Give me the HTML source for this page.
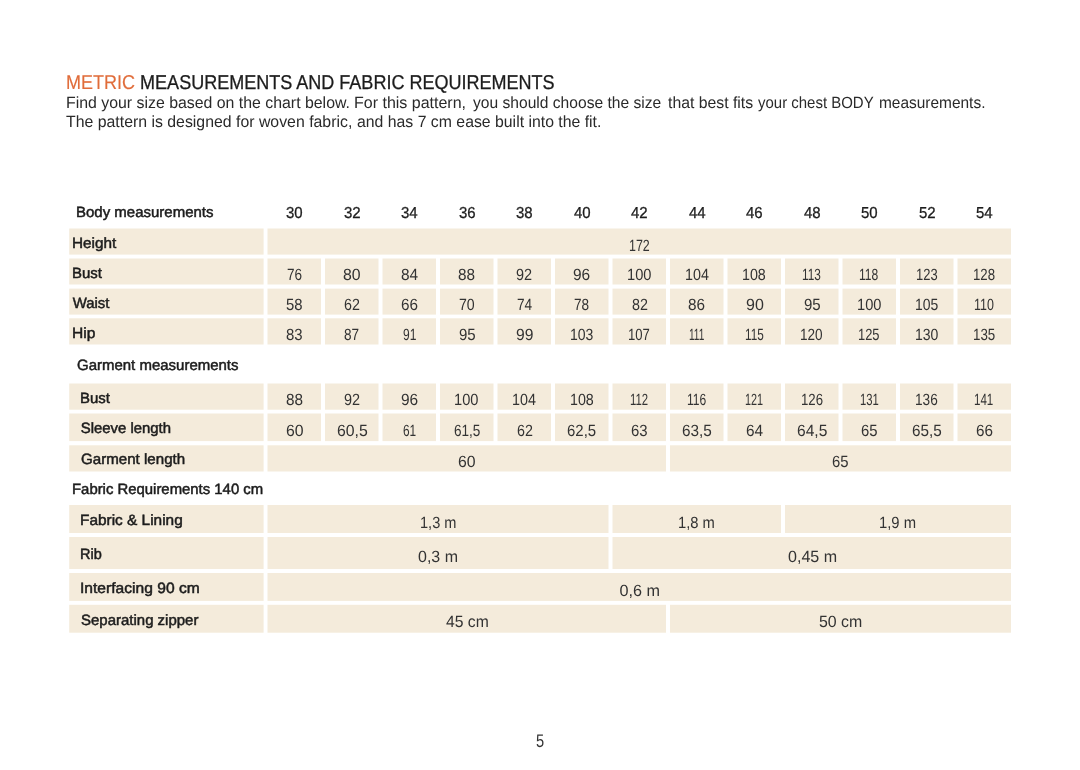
<!DOCTYPE html>
<html lang="en"><head><meta charset="utf-8"><title>Metric measurements and fabric requirements</title>
<style>
html,body{margin:0;padding:0;background:#fff}
body{width:1080px;height:770px;position:relative;overflow:hidden;font-family:"Liberation Sans",sans-serif;color:#222;text-rendering:geometricPrecision}
p{margin:0}
.bg{position:absolute;left:0;top:0;display:block}
.t{position:absolute;white-space:nowrap;line-height:0;height:0;transform-origin:0 0}
.l{font-size:14.9px;color:#1c1c1c;-webkit-text-stroke:0.5px #1c1c1c}
.n{font-size:16.2px;color:#333}
.title{font-size:20.0px;color:#1c1c1c;-webkit-text-stroke:0.3px #1c1c1c}
.title .o{font-weight:normal;color:#e06c3a;-webkit-text-stroke:0.15px #e06c3a}
.body{font-size:16.2px;color:#2a2a2a}
.sec{font-size:14.9px;color:#1c1c1c;-webkit-text-stroke:0.5px #1c1c1c}
.hn{font-size:15.9px;color:#1c1c1c;-webkit-text-stroke:0.3px #1c1c1c}
.pg{font-size:18.3px;color:#333}
</style></head>
<body>
<svg class="bg" width="1080" height="770" viewBox="0 0 1080 770" aria-hidden="true"><g fill="#f4ebdb">
<rect x="69.2" y="228.5" width="194.4" height="26.1"/>
<rect x="267.5" y="228.5" width="743.5" height="26.1"/>
<rect x="69.2" y="258.5" width="194.4" height="26.0"/>
<rect x="267.5" y="258.5" width="53.5" height="26.0"/>
<rect x="325.0" y="258.5" width="53.5" height="26.0"/>
<rect x="382.5" y="258.5" width="53.5" height="26.0"/>
<rect x="440.0" y="258.5" width="53.5" height="26.0"/>
<rect x="497.5" y="258.5" width="53.5" height="26.0"/>
<rect x="555.0" y="258.5" width="53.5" height="26.0"/>
<rect x="612.5" y="258.5" width="53.5" height="26.0"/>
<rect x="670.0" y="258.5" width="53.5" height="26.0"/>
<rect x="727.5" y="258.5" width="53.5" height="26.0"/>
<rect x="785.0" y="258.5" width="53.5" height="26.0"/>
<rect x="842.5" y="258.5" width="53.5" height="26.0"/>
<rect x="900.0" y="258.5" width="53.5" height="26.0"/>
<rect x="957.5" y="258.5" width="53.5" height="26.0"/>
<rect x="69.2" y="288.6" width="194.4" height="26.0"/>
<rect x="267.5" y="288.6" width="53.5" height="26.0"/>
<rect x="325.0" y="288.6" width="53.5" height="26.0"/>
<rect x="382.5" y="288.6" width="53.5" height="26.0"/>
<rect x="440.0" y="288.6" width="53.5" height="26.0"/>
<rect x="497.5" y="288.6" width="53.5" height="26.0"/>
<rect x="555.0" y="288.6" width="53.5" height="26.0"/>
<rect x="612.5" y="288.6" width="53.5" height="26.0"/>
<rect x="670.0" y="288.6" width="53.5" height="26.0"/>
<rect x="727.5" y="288.6" width="53.5" height="26.0"/>
<rect x="785.0" y="288.6" width="53.5" height="26.0"/>
<rect x="842.5" y="288.6" width="53.5" height="26.0"/>
<rect x="900.0" y="288.6" width="53.5" height="26.0"/>
<rect x="957.5" y="288.6" width="53.5" height="26.0"/>
<rect x="69.2" y="318.3" width="194.4" height="26.2"/>
<rect x="267.5" y="318.3" width="53.5" height="26.2"/>
<rect x="325.0" y="318.3" width="53.5" height="26.2"/>
<rect x="382.5" y="318.3" width="53.5" height="26.2"/>
<rect x="440.0" y="318.3" width="53.5" height="26.2"/>
<rect x="497.5" y="318.3" width="53.5" height="26.2"/>
<rect x="555.0" y="318.3" width="53.5" height="26.2"/>
<rect x="612.5" y="318.3" width="53.5" height="26.2"/>
<rect x="670.0" y="318.3" width="53.5" height="26.2"/>
<rect x="727.5" y="318.3" width="53.5" height="26.2"/>
<rect x="785.0" y="318.3" width="53.5" height="26.2"/>
<rect x="842.5" y="318.3" width="53.5" height="26.2"/>
<rect x="900.0" y="318.3" width="53.5" height="26.2"/>
<rect x="957.5" y="318.3" width="53.5" height="26.2"/>
<rect x="69.2" y="383.5" width="194.4" height="26.2"/>
<rect x="267.5" y="383.5" width="53.5" height="26.2"/>
<rect x="325.0" y="383.5" width="53.5" height="26.2"/>
<rect x="382.5" y="383.5" width="53.5" height="26.2"/>
<rect x="440.0" y="383.5" width="53.5" height="26.2"/>
<rect x="497.5" y="383.5" width="53.5" height="26.2"/>
<rect x="555.0" y="383.5" width="53.5" height="26.2"/>
<rect x="612.5" y="383.5" width="53.5" height="26.2"/>
<rect x="670.0" y="383.5" width="53.5" height="26.2"/>
<rect x="727.5" y="383.5" width="53.5" height="26.2"/>
<rect x="785.0" y="383.5" width="53.5" height="26.2"/>
<rect x="842.5" y="383.5" width="53.5" height="26.2"/>
<rect x="900.0" y="383.5" width="53.5" height="26.2"/>
<rect x="957.5" y="383.5" width="53.5" height="26.2"/>
<rect x="69.2" y="413.5" width="194.4" height="27.6"/>
<rect x="267.5" y="413.5" width="53.5" height="27.6"/>
<rect x="325.0" y="413.5" width="53.5" height="27.6"/>
<rect x="382.5" y="413.5" width="53.5" height="27.6"/>
<rect x="440.0" y="413.5" width="53.5" height="27.6"/>
<rect x="497.5" y="413.5" width="53.5" height="27.6"/>
<rect x="555.0" y="413.5" width="53.5" height="27.6"/>
<rect x="612.5" y="413.5" width="53.5" height="27.6"/>
<rect x="670.0" y="413.5" width="53.5" height="27.6"/>
<rect x="727.5" y="413.5" width="53.5" height="27.6"/>
<rect x="785.0" y="413.5" width="53.5" height="27.6"/>
<rect x="842.5" y="413.5" width="53.5" height="27.6"/>
<rect x="900.0" y="413.5" width="53.5" height="27.6"/>
<rect x="957.5" y="413.5" width="53.5" height="27.6"/>
<rect x="69.2" y="445.3" width="194.4" height="26.2"/>
<rect x="267.5" y="445.3" width="398.5" height="26.2"/>
<rect x="670.0" y="445.3" width="341.0" height="26.2"/>
<rect x="69.2" y="505.0" width="194.4" height="28.0"/>
<rect x="267.5" y="505.0" width="341.0" height="28.0"/>
<rect x="612.5" y="505.0" width="168.5" height="28.0"/>
<rect x="785.0" y="505.0" width="226.0" height="28.0"/>
<rect x="69.2" y="537.0" width="194.4" height="32.0"/>
<rect x="267.5" y="537.0" width="341.0" height="32.0"/>
<rect x="612.5" y="537.0" width="398.5" height="32.0"/>
<rect x="69.2" y="573.0" width="194.4" height="27.9"/>
<rect x="267.5" y="573.0" width="743.5" height="27.9"/>
<rect x="69.2" y="604.8" width="194.4" height="27.9"/>
<rect x="267.5" y="604.8" width="398.5" height="27.9"/>
<rect x="670.0" y="604.8" width="341.0" height="27.9"/>
</g></svg>
<div class="t title" style="left:65.60px;top:83.17px;transform:scaleX(0.901)"><b class="o">METRIC</b> MEASUREMENTS AND FABRIC REQUIREMENTS</div>
<p><span class="t body" style="left:65.82px;top:103.17px;transform:scaleX(0.980)">Find your size based on the chart below.</span>
<span class="t body" style="left:354.31px;top:103.17px;transform:scaleX(0.988)">For this pattern,</span>
<span class="t body" style="left:472.50px;top:103.17px;transform:scaleX(0.964)">you should choose the size</span>
<span class="t body" style="left:667.50px;top:103.17px;transform:scaleX(0.975)">that best fits</span>
<span class="t body" style="left:757.50px;top:103.17px;transform:scaleX(0.925)">your chest BODY</span>
<span class="t body" style="left:879.05px;top:103.17px;transform:scaleX(0.954)">measurements.</span></p>
<p><span class="t body" style="left:66.00px;top:122.17px;transform:scaleX(0.979)">The pattern is designed for woven fabric,</span>
<span class="t body" style="left:357.00px;top:122.17px;transform:scaleX(0.977)">and has 7 cm ease built into the fit.</span></p>
<div class="t sec" style="left:76.39px;top:213.17px;transform:scaleX(1.007)">Body measurements</div>
<div class="t sec" style="left:77.10px;top:366.18px;transform:scaleX(1.006)">Garment measurements</div>
<div class="t sec" style="left:72.00px;top:490.18px">Fabric Requirements 140 cm</div>
<div class="t hn" style="left:286.05px;top:214.17px;transform:scaleX(0.942)">30</div>
<div class="t hn" style="left:343.55px;top:214.17px;transform:scaleX(0.942)">32</div>
<div class="t hn" style="left:401.05px;top:214.17px;transform:scaleX(0.942)">34</div>
<div class="t hn" style="left:458.55px;top:214.17px;transform:scaleX(0.942)">36</div>
<div class="t hn" style="left:516.05px;top:214.17px;transform:scaleX(0.942)">38</div>
<div class="t hn" style="left:573.55px;top:214.17px;transform:scaleX(0.942)">40</div>
<div class="t hn" style="left:631.05px;top:214.17px;transform:scaleX(0.942)">42</div>
<div class="t hn" style="left:688.55px;top:214.17px;transform:scaleX(0.942)">44</div>
<div class="t hn" style="left:746.05px;top:214.17px;transform:scaleX(0.942)">46</div>
<div class="t hn" style="left:803.55px;top:214.17px;transform:scaleX(0.942)">48</div>
<div class="t hn" style="left:861.05px;top:214.17px;transform:scaleX(0.942)">50</div>
<div class="t hn" style="left:918.55px;top:214.17px;transform:scaleX(0.942)">52</div>
<div class="t hn" style="left:976.05px;top:214.17px;transform:scaleX(0.942)">54</div>
<div class="t l" style="left:71.67px;top:244.17px;transform:scaleX(1.028)">Height</div>
<div class="t n" style="left:628.68px;top:246.17px;transform:scaleX(0.769)">172</div>
<div class="t l" style="left:71.70px;top:274.18px;transform:scaleX(1.005)">Bust</div>
<div class="t n" style="left:286.90px;top:275.18px;transform:scaleX(0.839)">76</div>
<div class="t n" style="left:343.15px;top:275.18px;transform:scaleX(0.978)">80</div>
<div class="t n" style="left:400.90px;top:275.18px;transform:scaleX(0.950)">84</div>
<div class="t n" style="left:458.45px;top:275.18px;transform:scaleX(0.944)">88</div>
<div class="t n" style="left:516.40px;top:275.18px;transform:scaleX(0.894)">92</div>
<div class="t n" style="left:573.35px;top:275.18px;transform:scaleX(0.955)">96</div>
<div class="t n" style="left:626.80px;top:275.18px;transform:scaleX(0.904)">100</div>
<div class="t n" style="left:684.57px;top:275.18px;transform:scaleX(0.884)">104</div>
<div class="t n" style="left:742.12px;top:275.18px;transform:scaleX(0.881)">108</div>
<div class="t n" style="left:802.17px;top:275.18px;transform:scaleX(0.730)">113</div>
<div class="t n" style="left:859.45px;top:275.18px;transform:scaleX(0.746)">118</div>
<div class="t n" style="left:915.75px;top:275.18px;transform:scaleX(0.800)">123</div>
<div class="t n" style="left:973.03px;top:275.18px;transform:scaleX(0.815)">128</div>
<div class="t l" style="left:72.70px;top:304.18px">Waist</div>
<div class="t n" style="left:286.20px;top:305.18px;transform:scaleX(0.917)">58</div>
<div class="t n" style="left:344.00px;top:305.18px;transform:scaleX(0.883)">62</div>
<div class="t n" style="left:400.95px;top:305.18px;transform:scaleX(0.944)">66</div>
<div class="t n" style="left:459.10px;top:305.18px;transform:scaleX(0.872)">70</div>
<div class="t n" style="left:516.85px;top:305.18px;transform:scaleX(0.844)">74</div>
<div class="t n" style="left:574.40px;top:305.18px;transform:scaleX(0.839)">78</div>
<div class="t n" style="left:631.50px;top:305.18px;transform:scaleX(0.883)">82</div>
<div class="t n" style="left:688.45px;top:305.18px;transform:scaleX(0.944)">86</div>
<div class="t n" style="left:745.55px;top:305.18px;transform:scaleX(0.989)">90</div>
<div class="t n" style="left:803.60px;top:305.18px;transform:scaleX(0.928)">95</div>
<div class="t n" style="left:856.80px;top:305.18px;transform:scaleX(0.904)">100</div>
<div class="t n" style="left:914.89px;top:305.18px;transform:scaleX(0.861)">105</div>
<div class="t n" style="left:974.13px;top:305.18px;transform:scaleX(0.770)">110</div>
<div class="t l" style="left:71.66px;top:334.18px;transform:scaleX(1.045)">Hip</div>
<div class="t n" style="left:286.15px;top:335.18px;transform:scaleX(0.922)">83</div>
<div class="t n" style="left:344.40px;top:335.18px;transform:scaleX(0.839)">87</div>
<div class="t n" style="left:402.75px;top:335.18px;transform:scaleX(0.744)">91</div>
<div class="t n" style="left:458.60px;top:335.18px;transform:scaleX(0.928)">95</div>
<div class="t n" style="left:515.75px;top:335.18px;transform:scaleX(0.967)">99</div>
<div class="t n" style="left:569.83px;top:335.18px;transform:scaleX(0.865)">103</div>
<div class="t n" style="left:628.14px;top:335.18px;transform:scaleX(0.808)">107</div>
<div class="t n" style="left:688.98px;top:335.18px;transform:scaleX(0.623)">111</div>
<div class="t n" style="left:744.72px;top:335.18px;transform:scaleX(0.726)">115</div>
<div class="t n" style="left:800.21px;top:335.18px;transform:scaleX(0.838)">120</div>
<div class="t n" style="left:858.30px;top:335.18px;transform:scaleX(0.796)">125</div>
<div class="t n" style="left:914.83px;top:335.18px;transform:scaleX(0.865)">130</div>
<div class="t n" style="left:972.93px;top:335.18px;transform:scaleX(0.823)">135</div>
<div class="t l" style="left:79.70px;top:399.18px;transform:scaleX(1.005)">Bust</div>
<div class="t n" style="left:285.95px;top:400.18px;transform:scaleX(0.944)">88</div>
<div class="t n" style="left:343.90px;top:400.18px;transform:scaleX(0.894)">92</div>
<div class="t n" style="left:400.85px;top:400.18px;transform:scaleX(0.955)">96</div>
<div class="t n" style="left:454.30px;top:400.18px;transform:scaleX(0.904)">100</div>
<div class="t n" style="left:512.07px;top:400.18px;transform:scaleX(0.884)">104</div>
<div class="t n" style="left:569.62px;top:400.18px;transform:scaleX(0.881)">108</div>
<div class="t n" style="left:630.05px;top:400.18px;transform:scaleX(0.702)">112</div>
<div class="t n" style="left:686.95px;top:400.18px;transform:scaleX(0.746)">116</div>
<div class="t n" style="left:745.08px;top:400.18px;transform:scaleX(0.669)">121</div>
<div class="t n" style="left:800.53px;top:400.18px;transform:scaleX(0.815)">126</div>
<div class="t n" style="left:859.70px;top:400.18px;transform:scaleX(0.696)">131</div>
<div class="t n" style="left:915.16px;top:400.18px;transform:scaleX(0.842)">136</div>
<div class="t n" style="left:974.43px;top:400.18px;transform:scaleX(0.715)">141</div>
<div class="t l" style="left:80.80px;top:429.18px">Sleeve length</div>
<div class="t n" style="left:285.65px;top:431.18px;transform:scaleX(0.978)">60</div>
<div class="t n" style="left:336.55px;top:431.18px;transform:scaleX(0.978)">60,5</div>
<div class="t n" style="left:402.85px;top:431.18px;transform:scaleX(0.733)">61</div>
<div class="t n" style="left:453.75px;top:431.18px;transform:scaleX(0.838)">61,5</div>
<div class="t n" style="left:516.50px;top:431.18px;transform:scaleX(0.883)">62</div>
<div class="t n" style="left:567.40px;top:431.18px;transform:scaleX(0.924)">62,5</div>
<div class="t n" style="left:631.15px;top:431.18px;transform:scaleX(0.922)">63</div>
<div class="t n" style="left:682.05px;top:431.18px;transform:scaleX(0.946)">63,5</div>
<div class="t n" style="left:745.90px;top:431.18px;transform:scaleX(0.950)">64</div>
<div class="t n" style="left:796.80px;top:431.18px;transform:scaleX(0.962)">64,5</div>
<div class="t n" style="left:861.20px;top:431.18px;transform:scaleX(0.917)">65</div>
<div class="t n" style="left:912.10px;top:431.18px;transform:scaleX(0.943)">65,5</div>
<div class="t n" style="left:975.95px;top:431.18px;transform:scaleX(0.944)">66</div>
<div class="t l" style="left:80.80px;top:460.18px;transform:scaleX(1.015)">Garment length</div>
<div class="t n" style="left:458.15px;top:462.18px;transform:scaleX(0.978)">60</div>
<div class="t n" style="left:832.45px;top:462.18px;transform:scaleX(0.917)">65</div>
<div class="t l" style="left:79.67px;top:521.18px;transform:scaleX(1.034)">Fabric &amp; Lining</div>
<div class="t n" style="left:419.75px;top:523.18px;transform:scaleX(0.900)">1,3 m</div>
<div class="t n" style="left:678.29px;top:523.18px;transform:scaleX(0.910)">1,8 m</div>
<div class="t n" style="left:879.43px;top:523.18px;transform:scaleX(0.915)">1,9 m</div>
<div class="t l" style="left:80.13px;top:555.18px;transform:scaleX(0.973)">Rib</div>
<div class="t n" style="left:418.45px;top:557.18px;transform:scaleX(0.987)">0,3 m</div>
<div class="t n" style="left:787.65px;top:557.18px;transform:scaleX(0.992)">0,45 m</div>
<div class="t l" style="left:80.05px;top:589.18px;transform:scaleX(1.048)">Interfacing 90 cm</div>
<div class="t n" style="left:619.50px;top:591.18px">0,6 m</div>
<div class="t l" style="left:81.10px;top:621.18px;transform:scaleX(1.006)">Separating zipper</div>
<div class="t n" style="left:445.80px;top:622.18px;transform:scaleX(0.970)">45 cm</div>
<div class="t n" style="left:819.30px;top:622.18px;transform:scaleX(0.982)">50 cm</div>
<div class="t pg" style="left:536.10px;top:741.18px;transform:scaleX(0.800)">5</div>
</body></html>
